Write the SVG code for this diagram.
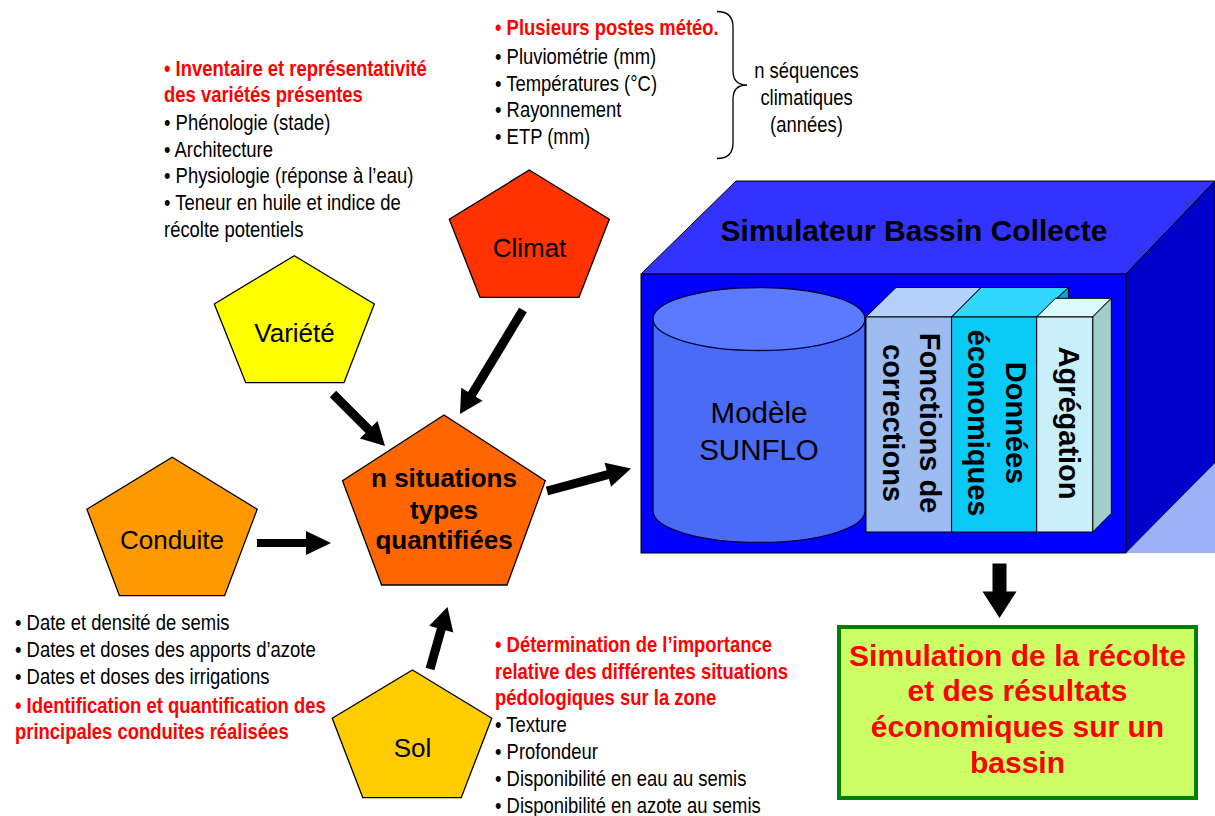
<svg xmlns="http://www.w3.org/2000/svg" width="1215" height="816" viewBox="0 0 1215 816">
<style>
.pent{stroke:#000;stroke-width:1.3}
.lbl{font-family:"Liberation Sans",Arial,sans-serif;font-size:26px;text-anchor:middle;fill:#000}
.big{font-family:"Liberation Sans",Arial,sans-serif;font-size:29.5px;text-anchor:middle;fill:#000}
.bold{font-family:"Liberation Sans",Arial,sans-serif;font-weight:bold;text-anchor:middle}
.sm{font-family:"Liberation Sans Narrow","Arial Narrow","Liberation Sans",sans-serif;font-size:22.5px;fill:#000}
.red{fill:#ff0000}
.sm .red{font-weight:bold}
.arr{fill:#000}
.edge{stroke:#000;stroke-width:1}
</style>
<rect width="1215" height="816" fill="#fff"/>

<!-- Simulator box -->
<g id="node-simulateur">
  <polygon class="edge" points="641,274 736,181 1215,181 1215,181 1126,274" fill="#3333ff"/>
  <polygon class="edge" points="1126,274 1215,181 1215,463 1126,553" fill="#0000cc"/>
  <polygon points="1126,553 1215,463 1215,553" fill="#9db2f6"/>
  <rect class="edge" x="641" y="274" width="485" height="279" fill="#0000ff"/>
  <text class="bold" x="914" y="241" font-size="30" fill="#000">Simulateur Bassin Collecte</text>
  <g id="node-sunflo">
    <path d="M653,319 L653,511 A106,31.5 0 0 0 865,511 L865,319 Z" fill="#4a6bf6" stroke="#000044" stroke-width="1.3"/>
    <ellipse cx="759" cy="319" rx="106" ry="31.5" fill="#5a7bff" stroke="#000044" stroke-width="1.3"/>
    <text class="big" x="759" y="423">Modèle</text>
    <text class="big" x="759" y="460">SUNFLO</text>
  </g>
  <g id="node-corrections">
    <polygon class="edge" points="866,317 896,287.5 981,287.5 951.6,317" fill="#b3d1fb"/>
    <rect class="edge" x="866" y="317" width="85.6" height="215" fill="#9dbcf0"/>
    <text class="bold" font-size="29" fill="#000" transform="translate(920,423) rotate(90)">Fonctions de</text>
    <text class="bold" font-size="29" fill="#000" transform="translate(883,423) rotate(90)">corrections</text>
  </g>
  <g id="node-donnees">
    <polygon class="edge" points="1036.7,317 1068.4,287.5 1068.4,502 1036.7,532" fill="#00a8d8"/>
    <polygon class="edge" points="951.6,317 981,287.5 1068.4,287.5 1036.7,317" fill="#33d6ff"/>
    <rect class="edge" x="951.6" y="317" width="85.1" height="215" fill="#0ccaf6"/>
    <text class="bold" font-size="29" fill="#000" transform="translate(1006,423) rotate(90)">Données</text>
    <text class="bold" font-size="29" fill="#000" transform="translate(968,423) rotate(90)">économiques</text>
  </g>
  <g id="node-agregation">
    <polygon class="edge" points="1036.7,317 1055.4,298.3 1111.3,298.3 1092.7,317" fill="#dbfbff"/>
    <polygon class="edge" points="1092.7,317 1111.3,298.3 1111.3,513.3 1092.7,532" fill="#a3cccc"/>
    <rect class="edge" x="1036.7" y="317" width="56" height="215" fill="#c8effa"/>
    <text class="bold" font-size="29" fill="#000" transform="translate(1059,423) rotate(90)">Agrégation</text>
  </g>
</g>

<!-- Pentagons -->
<g id="node-variete">
  <polygon class="pent" points="294.3,255.7 374.3,304 344,382.7 245.7,382.7 214.3,304" fill="#ffff00"/>
  <text class="lbl" x="294.5" y="341.5">Variété</text>
</g>
<g id="node-climat">
  <polygon class="pent" points="529.3,170 609.3,219.3 579,297.3 480,297.3 449.3,219.3" fill="#ff3300"/>
  <text class="lbl" x="529.5" y="256.5">Climat</text>
</g>
<g id="node-conduite">
  <polygon class="pent" points="172.2,457.3 257.2,509.3 224.6,595.7 119.4,595.7 86.9,509.3" fill="#ff9900"/>
  <text class="lbl" x="172" y="549">Conduite</text>
</g>
<g id="node-situations">
  <polygon class="pent" points="444,415 545.3,480.7 507,585 381.6,585 342.5,480.7" fill="#ff6600"/>
  <text class="bold" font-size="26" x="444" y="487">n situations</text>
  <text class="bold" font-size="26" x="444" y="518.5">types</text>
  <text class="bold" font-size="26" x="444" y="548.5">quantifiées</text>
</g>
<g id="node-sol">
  <polygon class="pent" points="412.5,670 491.8,718.3 461.2,797.7 362.8,797.7 332.2,718.3" fill="#ffcc00"/>
  <text class="lbl" x="412.5" y="757">Sol</text>
</g>

<!-- Result -->
<g id="node-resultat">
  <rect x="839" y="627" width="357" height="171" fill="#ccff66" stroke="#008000" stroke-width="4"/>
  <text class="bold red" font-size="30" x="1017.5" y="666">Simulation de la récolte</text>
  <text class="bold red" font-size="30" x="1017.5" y="701">et des résultats</text>
  <text class="bold red" font-size="30" x="1017.5" y="737">économiques sur un</text>
  <text class="bold red" font-size="30" x="1017.5" y="773">bassin</text>
</g>

<!-- Annotations -->
<g id="note-variete" class="sm" transform="translate(164,0) scale(0.82,1)">
  <text x="0" y="75.7" class="red">• Inventaire et représentativité</text>
  <text x="0" y="101.7" class="red">des variétés présentes</text>
  <text x="0" y="130">• Phénologie (stade)</text>
  <text x="0" y="156.7">• Architecture</text>
  <text x="0" y="183.3">• Physiologie (réponse à l’eau)</text>
  <text x="0" y="210">• Teneur en huile et indice de</text>
  <text x="0" y="236.7">récolte potentiels</text>
</g>
<g id="note-climat">
  <g class="sm" transform="translate(495,0) scale(0.82,1)">
    <text x="0" y="35" class="red">• Plusieurs postes météo.</text>
    <text x="0" y="64">• Pluviométrie (mm)</text>
    <text x="0" y="90.7">• Températures (°C)</text>
    <text x="0" y="117.3">• Rayonnement</text>
    <text x="0" y="144">• ETP (mm)</text>
  </g>
  <path d="M717,11.5 Q733,11.5 733,27 L733,71 Q733,85 747,85 Q733,85 733,99 L733,143 Q733,158.5 717,158.5" fill="none" stroke="#000" stroke-width="1.3"/>
  <g class="sm" transform="translate(806.5,0) scale(0.82,1)">
    <text x="0" y="78.5" text-anchor="middle">n séquences</text>
    <text x="0" y="105" text-anchor="middle">climatiques</text>
    <text x="0" y="132" text-anchor="middle">(années)</text>
  </g>
</g>
<g id="note-conduite" class="sm" transform="translate(15,0) scale(0.82,1)">
  <text x="0" y="630.5">• Date et densité de semis</text>
  <text x="0" y="657">• Dates et doses des apports d’azote</text>
  <text x="0" y="684.5">• Dates et doses des irrigations</text>
  <text x="0" y="713" class="red">• Identification et quantification des</text>
  <text x="0" y="739.5" class="red">principales conduites réalisées</text>
</g>
<g id="note-sol" class="sm" transform="translate(495,0) scale(0.82,1)">
  <text x="0" y="652" class="red">• Détermination de l’importance</text>
  <text x="0" y="678.7" class="red">relative des différentes situations</text>
  <text x="0" y="705.3" class="red">pédologiques sur la zone</text>
  <text x="0" y="732">• Texture</text>
  <text x="0" y="759.3">• Profondeur</text>
  <text x="0" y="786.3">• Disponibilité en eau au semis</text>
  <text x="0" y="813">• Disponibilité en azote au semis</text>
</g>

<!-- Connectors -->
<g id="connectors" class="arr">
  <polygon id="c-variete" points="329.82,397.18 365.56,432.92 359.9,438.58 385,446 377.58,420.9 371.92,426.56 336.18,390.82"/>
  <polygon id="c-climat" points="519.15,307.67 468.07,392 461.23,387.85 460,414 482.61,400.81 475.77,396.66 526.85,312.33"/>
  <polygon id="c-conduite" points="257,539 306,539 306,531 331,543 306,555 306,547 257,547"/>
  <polygon id="c-sol" points="434.33,670.22 445.58,630.36 453.28,632.54 447.5,607 429.22,625.74 436.92,627.92 425.67,667.78"/>
  <polygon id="c-simulateur" points="548.16,495.35 608.98,479.06 611.05,486.79 631,468.5 604.59,462.63 606.66,470.36 545.84,486.65"/>
  <polygon id="c-resultat" points="992.5,563.5 1006.5,563.5 1006.5,591.5 1016.5,591.5 999.5,618 982.5,591.5 992.5,591.5"/>
</g>
</svg>
